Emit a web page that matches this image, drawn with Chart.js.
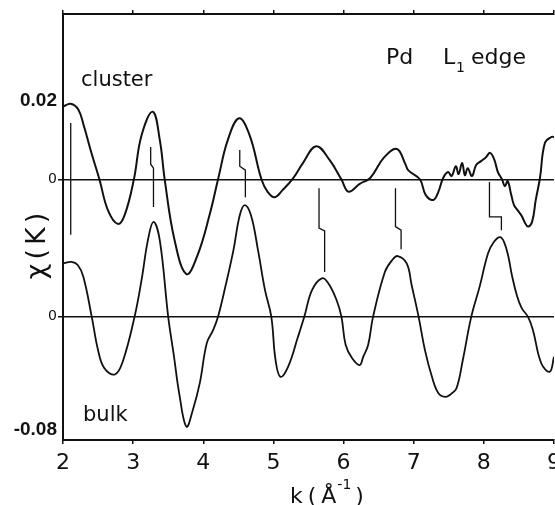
<!DOCTYPE html>
<html>
<head>
<meta charset="utf-8">
<script src="https://cdn.jsdelivr.net/npm/chart.js@4/dist/chart.umd.min.js"></script>
<style>
  html, body { margin: 0; padding: 0; background: #fff; }
  #wrap { width: 555px; height: 505px; }
</style>
</head>
<body>
<div id="wrap"><canvas id="exafs" width="555" height="505"></canvas></div>
<script>
/* Pd L1 edge EXAFS: chi(k) for cluster (upper) and bulk (lower, shifted down),
 * with the little peak-shift markers drawn between the two traces. */
(function () {
  "use strict";

  // cluster trace, chi relative to its own zero line
  var CLUSTER_K = [2.00, 2.11, 2.22, 2.30, 2.41, 2.52, 2.64, 2.78, 2.88, 3.01,
    3.12, 3.28, 3.38, 3.45, 3.59, 3.76, 3.92, 4.09, 4.21, 4.35,
    4.51, 4.66, 4.83, 4.92, 5.02, 5.13, 5.28, 5.42, 5.61, 5.80,
    5.97, 6.07, 6.23, 6.38, 6.58, 6.76, 6.88, 6.92, 7.09, 7.17,
    7.28, 7.35, 7.42, 7.49, 7.54, 7.60, 7.64, 7.69, 7.73, 7.77,
    7.83, 7.89, 7.96, 8.03, 8.09, 8.15, 8.20, 8.26, 8.30, 8.34,
    8.39, 8.43, 8.48, 8.54, 8.58, 8.63, 8.69, 8.74, 8.80, 8.87,
    8.97, 9.00];
  var CLUSTER_CHI = [0.0186, 0.0193, 0.0178, 0.0135, 0.0065, 0.0000, -0.0078, -0.0113, -0.0090, 0.0000,
    0.0113, 0.0173, 0.0101, 0.0000, -0.0154, -0.0241, -0.0192, -0.0090, 0.0000, 0.0101,
    0.0156, 0.0113, 0.0000, -0.0032, -0.0045, -0.0027, 0.0003, 0.0042, 0.0085, 0.0050,
    0.0000, -0.0031, -0.0011, 0.0004, 0.0057, 0.0078, 0.0040, 0.0024, 0.0000, -0.0039,
    -0.0052, -0.0032, 0.0004, 0.0019, 0.0009, 0.0034, 0.0014, 0.0042, 0.0011, 0.0029,
    0.0009, 0.0037, 0.0047, 0.0057, 0.0068, 0.0050, 0.0019, 0.0000, -0.0017, -0.0004,
    -0.0039, -0.0065, -0.0078, -0.0093, -0.0108, -0.0120, -0.0106, -0.0052, 0.0004, 0.0093,
    0.0109, 0.0108];

  // bulk trace, chi relative to its own zero line
  var BULK_K = [2.00, 2.12, 2.21, 2.29, 2.41, 2.50, 2.59, 2.74, 2.85, 3.02,
    3.12, 3.21, 3.29, 3.38, 3.50, 3.58, 3.66, 3.76, 3.85, 3.95,
    4.05, 4.14, 4.21, 4.32, 4.43, 4.52, 4.59, 4.68, 4.78, 4.88,
    4.97, 5.03, 5.10, 5.21, 5.35, 5.44, 5.55, 5.69, 5.78, 5.90,
    5.97, 6.03, 6.12, 6.23, 6.28, 6.35, 6.42, 6.59, 6.69, 6.77,
    6.90, 6.97, 7.07, 7.16, 7.26, 7.35, 7.45, 7.53, 7.61, 7.70,
    7.82, 7.94, 8.06, 8.14, 8.23, 8.29, 8.35, 8.40, 8.47, 8.54,
    8.63, 8.70, 8.82, 8.94, 9.00];
  var BULK_CHI = [0.0136, 0.0140, 0.0132, 0.0102, 0.0000, -0.0085, -0.0131, -0.0147, -0.0115, 0.0000,
    0.0094, 0.0195, 0.0242, 0.0195, 0.0000, -0.0098, -0.0199, -0.0280, -0.0238, -0.0169,
    -0.0067, -0.0034, 0.0000, 0.0081, 0.0170, 0.0259, 0.0285, 0.0259, 0.0170, 0.0068,
    0.0000, -0.0110, -0.0153, -0.0127, -0.0051, 0.0000, 0.0068, 0.0098, 0.0086, 0.0043,
    0.0000, -0.0072, -0.0105, -0.0123, -0.0102, -0.0072, 0.0000, 0.0115, 0.0144, 0.0155,
    0.0136, 0.0081, 0.0000, -0.0085, -0.0153, -0.0194, -0.0204, -0.0197, -0.0182, -0.0110,
    0.0000, 0.0077, 0.0162, 0.0190, 0.0203, 0.0190, 0.0153, 0.0106, 0.0055, 0.0022,
    0.0000, -0.0034, -0.0119, -0.0140, -0.0102];
  var BULK_OFFSET = -0.035;

  // peak-shift markers, [k, chi] on the cluster scale
  var MARKERS = [
    [[2.11, 0.0144], [2.11, -0.0141]],
    [[3.25, 0.0083], [3.25, 0.0039], [3.29, 0.0029], [3.29, -0.0070]],
    [[4.52, 0.0075], [4.52, 0.0034], [4.60, 0.0024], [4.60, -0.0045]],
    [[5.65, -0.0022], [5.65, -0.0124], [5.73, -0.0131], [5.73, -0.0236]],
    [[6.74, -0.0022], [6.74, -0.0120], [6.82, -0.0129], [6.82, -0.0178]],
    [[8.08, -0.0006], [8.08, -0.0095], [8.25, -0.0095], [8.25, -0.0129]]
  ];

  var Y_TICK_VALUES = [-0.0637, BULK_OFFSET, 0, 0.02];
  var Y_TICK_LABELS = ["-0.08", "0", "0", "0.02"];
  var X_TICKS = [2, 3, 4, 5, 6, 7, 8, 9];

  var INK = "#111";
  var FACE = "'DejaVu Sans', 'Liberation Sans', sans-serif";

  function pts(ks, vs, shift) {
    return ks.map(function (k, i) { return { x: k, y: vs[i] + shift }; });
  }

  function isZeroTick(v) {
    return v === 0 || v === BULK_OFFSET;
  }

  // write pieces left to right; each piece may be raised/lowered and resized
  function runText(c, x, y, pieces) {
    pieces.forEach(function (p) {
      c.font = p.size + "px " + FACE;
      c.fillText(p.text, x, y + (p.dy || 0));
      x += c.measureText(p.text).width + (p.gap || 0);
    });
  }

  // texts: curve names, edge label, axis titles
  var textPlugin = {
    id: "figText",
    afterDraw: function (chart) {
      var c = chart.ctx;
      c.save();
      c.fillStyle = INK;
      c.textBaseline = "alphabetic";
      c.textAlign = "left";
      c.font = "21px " + FACE;
      c.fillText("cluster", 81, 86);
      c.fillText("bulk", 83, 421);

      c.font = "22px " + FACE;
      c.fillText("Pd", 386, 64);
      c.fillText("L", 443, 64);
      c.fillText("edge", 471, 64);
      c.font = "14px " + FACE;
      c.fillText("1", 456, 72);

      runText(c, 290, 503, [
        { text: "k", size: 22, gap: 5 },
        { text: "(", size: 22, gap: 5 },
        { text: "\u00c5", size: 22, gap: 1 },
        { text: "-1", size: 14, dy: -14, gap: 4 },
        { text: ")", size: 22 }
      ]);

      c.translate(45, 246);
      c.rotate(-Math.PI / 2);
      c.textAlign = "center";
      c.font = "27px " + FACE;
      c.letterSpacing = "4px";
      c.fillText("\u03c7(K)", 2, 0);
      c.restore();
    }
  };

  var datasets = [
    {
      label: "cluster",
      data: pts(CLUSTER_K, CLUSTER_CHI, 0),
      borderColor: INK,
      borderWidth: 2,
      pointRadius: 0,
      tension: 0.4
    },
    {
      label: "bulk",
      data: pts(BULK_K, BULK_CHI, BULK_OFFSET),
      borderColor: INK,
      borderWidth: 1.8,
      pointRadius: 0,
      tension: 0.4
    }
  ];
  MARKERS.forEach(function (m, i) {
    datasets.push({
      label: "marker" + i,
      data: m.map(function (p) { return { x: p[0], y: p[1] }; }),
      borderColor: INK,
      borderWidth: 1.3,
      pointRadius: 0,
      tension: 0
    });
  });

  new Chart(document.getElementById("exafs").getContext("2d"), {
    type: "line",
    plugins: [textPlugin],
    data: { datasets: datasets },
    options: {
      responsive: false,
      animation: false,
      events: [],
      layout: { padding: { top: 14, right: 1, left: 0, bottom: 0 } },
      plugins: { legend: { display: false }, tooltip: { enabled: false } },
      scales: {
        x: {
          type: "linear",
          min: 2,
          max: 9,
          afterBuildTicks: function (s) {
            s.ticks = X_TICKS.map(function (v) { return { value: v }; });
          },
          afterFit: function (s) {
            s.height = 65;
            s.paddingLeft = 0;
            s.paddingRight = 0;
          },
          border: { display: true, color: INK, width: 2 },
          grid: { drawOnChartArea: false, color: INK, lineWidth: 1.5, tickLength: 4 },
          ticks: {
            color: INK,
            padding: 6,
            maxRotation: 0,
            autoSkip: false,
            font: { family: FACE, size: 22 }
          }
        },
        xTop: {
          type: "linear",
          position: "top",
          min: 2,
          max: 9,
          afterBuildTicks: function (s) {
            s.ticks = X_TICKS.map(function (v) { return { value: v }; });
          },
          afterFit: function (s) {
            s.height = 0;
            s.paddingLeft = 0;
            s.paddingRight = 0;
          },
          border: { display: true, color: INK, width: 2 },
          grid: { drawOnChartArea: false, color: INK, lineWidth: 1.5, tickLength: 4 },
          ticks: { display: false }
        },
        y: {
          type: "linear",
          min: -0.0664,
          max: 0.0422,
          afterBuildTicks: function (s) {
            s.ticks = Y_TICK_VALUES.map(function (v) { return { value: v }; });
          },
          afterFit: function (s) {
            s.width = 63;
            s.paddingTop = 0;
            s.paddingBottom = 0;
          },
          border: { display: true, color: INK, width: 2 },
          grid: {
            drawOnChartArea: true,
            tickLength: 5,
            lineWidth: 1.5,
            color: function (ctx) {
              return ctx.tick && isZeroTick(ctx.tick.value) ? INK : "rgba(0,0,0,0)";
            }
          },
          ticks: {
            color: INK,
            padding: 1,
            autoSkip: false,
            callback: function (v, i) { return Y_TICK_LABELS[i]; },
            font: function (ctx) {
              var zero = ctx.tick && isZeroTick(ctx.tick.value);
              return zero
                ? { family: FACE, size: 14 }
                : { family: "'Liberation Sans', sans-serif", size: 19, weight: "bold" };
            }
          }
        }
      }
    }
  });
})();
</script>
</body>
</html>
